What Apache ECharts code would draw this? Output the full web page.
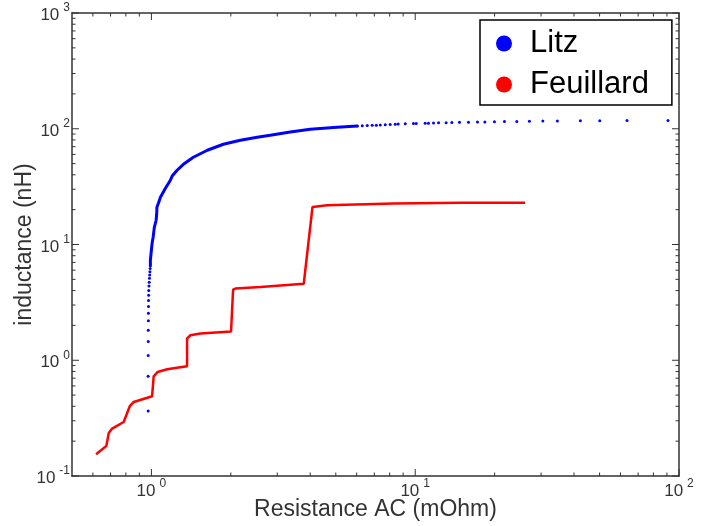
<!DOCTYPE html>
<html>
<head>
<meta charset="utf-8">
<script src="https://cdn.jsdelivr.net/npm/echarts@6/dist/echarts.min.js"></script>
<style>html,body{margin:0;padding:0;background:#fff}#c{width:716px;height:526px}</style>
</head>
<body>
<div id="c"></div>
<script>
// Litz: sparse dots (lower vertical part and upper right tail)
const litzDotsX = [0.972,0.972,0.972,0.973,0.973,0.974,0.974,0.975,0.975,0.976,0.977,0.979,0.981,0.983,0.985,0.987,0.989,0.991,
  6.04,6.30,6.58,6.87,7.12,7.37,7.70,8.04,8.40,8.62,9.17,9.85,10.09,10.91,11.23,11.73,12.26,13.10,13.77,14.72,15.92,17.22,18.37,19.97,21.79,24.28,27.10,30.46,34.59,42.27,50.08,63.53,90.84];
const litzDotsY = [0.365,0.727,1.10,1.45,1.82,2.19,2.55,2.91,3.28,3.64,4.01,4.37,4.73,5.10,5.46,5.82,6.19,6.55,
  105.7,106.0,106.5,107.0,107.4,107.8,108.3,108.8,109.3,109.7,110.3,110.8,111.1,111.5,111.8,112.2,112.5,112.9,113.2,113.6,113.9,114.3,114.6,115.0,115.3,115.7,116.0,116.4,116.7,117.1,117.4,117.8,118.1];
// Litz: dense part (dots overlap into a continuous curve)
const litzCurveX = [0.991,0.991,0.997,1.006,1.015,1.026,1.042,1.047,1.049,1.063,1.082,1.130,1.180,1.201,1.251,1.322,1.442,1.629,1.874,2.174,2.518,2.82,3.36,4.00,5.06,6.04];
const litzCurveY = [6.55,7.31,8.40,10.25,11.55,14.09,16.2,18.25,20.98,22.7,25.6,30.6,35.9,39.3,43.8,49.3,56.7,65.2,73.5,79.6,84.5,87.9,93.8,99.0,103.0,105.7];
// Feuillard
const feuX = [0.617,0.675,0.689,0.710,0.785,0.828,0.857,1.006,1.020,1.056,1.147,1.365,1.365,1.405,1.533,2.004,2.04,2.08,2.59,3.78,4.08,4.63,8.28,14.81,26.1];
const feuY = [0.154,0.182,0.235,0.257,0.293,0.401,0.436,0.489,0.727,0.792,0.836,0.888,1.540,1.644,1.701,1.770,4.08,4.16,4.30,4.58,21.1,21.8,22.6,23.0,23.0];
// axis ranges, labels and tick positions
const xRange = [0.5, 100];
const yRange = [0.1, 1000];
const xLabels = [1, 10, 100];
const yLabels = [0.1, 1, 10, 100, 1000];
const xMajorTicks = [1, 10, 100];
const xMinorTicks = [0.6, 0.7, 0.8, 0.9, 2, 3, 4, 5, 6, 7, 8, 9, 20, 30, 40, 50, 60, 70, 80, 90];
const yMajorTicks = [0.1, 1, 10, 100, 1000];
const yMinorTicks = [0.2, 0.3, 0.4, 0.5, 0.6, 0.7, 0.8, 0.9, 2, 3, 4, 5, 6, 7, 8, 9,
  20, 30, 40, 50, 60, 70, 80, 90, 200, 300, 400, 500, 600, 700, 800, 900];
const legendNames = ['Litz', 'Feuillard'];

const zip = (a, b) => a.map((v, i) => [v, b[i]]);
const FONT = '"Liberation Sans", Arial, sans-serif';
const AX = '#333';
const MAJOR_LEN = 7, MINOR_LEN = 3.5;
const supFmt = v => '{b|10}{s|' + Math.round(Math.log10(v)) + '}';
const rich = {
  b: {fontSize: 17, color: AX, fontFamily: FONT, lineHeight: 22, verticalAlign: 'bottom'},
  s: {fontSize: 12, color: AX, fontFamily: FONT, lineHeight: 22, verticalAlign: 'top', padding: [0, 0, 0, 4]}
};
// tick records: [value, kind] kind 1 = x major, 2 = x minor, 3 = y major, 4 = y minor
const tickData = [].concat(
  xMajorTicks.map(v => [v, 1]), xMinorTicks.map(v => [v, 2]),
  yMajorTicks.map(v => [v, 3]), yMinorTicks.map(v => [v, 4])
);
function tickLine(x1, y1, x2, y2) {
  return {type: 'line', shape: {x1: x1, y1: y1, x2: x2, y2: y2}, style: {stroke: AX, lineWidth: 1}};
}
function renderTick(params, api) {
  const v = api.value(0), k = api.value(1);
  if (k === 1 || k === 2) {
    const L = k === 1 ? MAJOR_LEN : MINOR_LEN;
    const b = api.coord([v, yRange[0]]), t = api.coord([v, yRange[1]]);
    return {type: 'group', children: [tickLine(b[0], b[1], b[0], b[1] - L), tickLine(t[0], t[1], t[0], t[1] + L)]};
  }
  const L = k === 3 ? MAJOR_LEN : MINOR_LEN;
  const l = api.coord([xRange[0], v]), r = api.coord([xRange[1], v]);
  return {type: 'group', children: [tickLine(l[0], l[1], l[0] + L, l[1]), tickLine(r[0], r[1], r[0] - L, r[1])]};
}
function labelAxis(pos, range, labels, name, gap) {
  return {
    type: 'log', position: pos, min: range[0], max: range[1],
    axisLine: {show: true, onZero: false, lineStyle: {color: AX, width: 1.5}},
    axisTick: {show: false},
    axisLabel: {show: true, customValues: labels, formatter: supFmt, rich: rich, margin: 2},
    splitLine: {show: false},
    name: name, nameLocation: 'middle', nameGap: gap, nameMoveOverlap: false,
    nameTextStyle: {fontSize: 23, color: AX, fontFamily: FONT}
  };
}
function lineAxis(pos, range) {
  return {
    type: 'log', position: pos, min: range[0], max: range[1],
    axisLine: {show: true, onZero: false, lineStyle: {color: AX, width: 1.5}},
    axisTick: {show: false}, axisLabel: {show: false}, splitLine: {show: false}
  };
}
const chart = echarts.init(document.getElementById('c'), null, {renderer: 'canvas'});
chart.setOption({
  animation: false,
  textStyle: {fontFamily: FONT},
  grid: {left: 72, right: 37, top: 13, bottom: 50, outerBoundsMode: 'none'},
  xAxis: [
    labelAxis('bottom', xRange, xLabels, 'Resistance AC (mOhm)', 22),
    lineAxis('top', xRange)
  ],
  yAxis: [
    labelAxis('left', yRange, yLabels, 'inductance (nH)', 36),
    lineAxis('right', yRange)
  ],
  legend: {
    show: true, orient: 'vertical', left: 480, top: 20,
    data: [{name: legendNames[0], icon: 'circle', itemStyle: {color: '#0000ff', opacity: 1}},
           {name: legendNames[1], icon: 'circle', itemStyle: {color: '#ff0000', opacity: 1}}],
    itemWidth: 16, itemHeight: 16, itemGap: 10,
    padding: [8, 23, 5, 16],
    backgroundColor: '#fff', borderColor: '#000', borderWidth: 1.5, borderRadius: 0,
    textStyle: {fontSize: 31, color: '#000', fontFamily: FONT, lineHeight: 31, padding: [0, 0, 0, 13]},
    selectedMode: false
  },
  series: [
    {type: 'custom', data: tickData, renderItem: renderTick, silent: true, clip: false, z: 1,
      xAxisIndex: 0, yAxisIndex: 0},
    {name: legendNames[0], type: 'scatter', data: zip(litzDotsX, litzDotsY), symbol: 'circle', symbolSize: 3,
      itemStyle: {color: '#0000ff', opacity: 1}, z: 3},
    {name: legendNames[0], type: 'line', data: zip(litzCurveX, litzCurveY), showSymbol: false, symbol: 'none',
      lineStyle: {color: '#0000ff', width: 3}, itemStyle: {color: '#0000ff'}, z: 3},
    {name: legendNames[1], type: 'line', data: zip(feuX, feuY), showSymbol: false, symbol: 'none',
      lineStyle: {color: '#ff0000', width: 2.5}, itemStyle: {color: '#ff0000'}, z: 4}
  ]
});
</script>
</body>
</html>
